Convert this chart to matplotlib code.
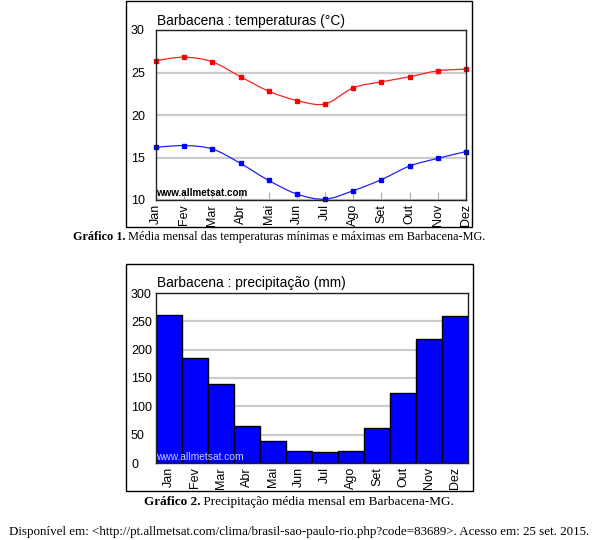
import matplotlib
matplotlib.use("Agg")
import matplotlib.pyplot as plt
from matplotlib.path import Path
from matplotlib.patches import PathPatch, Rectangle
import numpy as np

months = ["Jan", "Fev", "Mar", "Abr", "Mai", "Jun", "Jul", "Ago", "Set", "Out", "Nov", "Dez"]
temp_max = [26.4, 26.8, 26.25, 24.5, 22.8, 21.7, 21.3, 23.2, 23.9, 24.5, 25.2, 25.4]
temp_min = [16.2, 16.4, 16.0, 14.3, 12.3, 10.7, 10.1, 11.1, 12.4, 14.0, 14.9, 15.7]
precip = [262, 186, 140, 66, 38, 21, 19, 21, 62, 124, 219, 260]
temp_yticks = [10, 15, 20, 25, 30]
precip_yticks = [0, 50, 100, 150, 200, 250, 300]

title1 = "Barbacena : temperaturas (°C)"
title2 = "Barbacena : precipitação (mm)"
watermark = "www.allmetsat.com"
cap1_bold, cap1_text = "Gráfico 1.", " Média mensal das temperaturas mínimas e máximas em Barbacena-MG."
cap2_bold, cap2_text = "Gráfico 2.", " Precipitação média mensal em Barbacena-MG."
footer = "Disponível em: <http://pt.allmetsat.com/clima/brasil-sao-paulo-rio.php?code=83689>. Acesso em: 25 set. 2015."

W, H = 598, 540
fig = plt.figure(figsize=(W / 100, H / 100), dpi=100)
SANS = "Liberation Sans"
SERIF = "Liberation Serif"


def rect(l, t, r, b):
    return [l / W, 1 - b / H, (r - l) / W, (b - t) / H]


def frame(l, t, r, b):
    fig.add_artist(Rectangle((l / W, 1 - b / H), (r - l) / W, (b - t) / H,
                             transform=fig.transFigure, fill=False,
                             ec="black", lw=1.0))


def smooth_path(xs, ys):
    pts = np.column_stack([xs, ys]).astype(float)
    n = len(pts)
    verts = [pts[0]]
    codes = [Path.MOVETO]
    for i in range(n - 1):
        p0 = pts[max(i - 1, 0)]
        p1 = pts[i]
        p2 = pts[i + 1]
        p3 = pts[min(i + 2, n - 1)]
        c1 = p1 + (p2 - p0) / 6.0
        c2 = p2 - (p3 - p1) / 6.0
        verts += [c1, c2, p2]
        codes += [Path.CURVE4] * 3
    return Path(verts, codes)


def style_axes(ax):
    for s in ax.spines.values():
        s.set_color("#222222")
        s.set_linewidth(1.0)
    # y labels left-aligned at about x=131 px (axes left edge at 156 px)
    ax.tick_params(axis="y", length=0, pad=18, labelsize=9.0)
    ax.tick_params(axis="x", labelsize=9.0, rotation=90)
    for lab in ax.get_yticklabels():
        lab.set_horizontalalignment("left")
    for lab in ax.get_xticklabels() + ax.get_yticklabels():
        lab.set_fontfamily(SANS)
    ax.yaxis.grid(True, color="#cccccc", lw=1.6)
    ax.set_axisbelow(True)


# ---------- Chart 1: temperatures ----------
frame(126, 1, 472, 227)
ax1 = fig.add_axes(rect(156, 30, 466, 200))
x = np.arange(len(months))
ax1.set_xlim(0, len(months) - 1)
ax1.set_ylim(temp_yticks[0], temp_yticks[-1])
ax1.set_yticks(temp_yticks)
ax1.set_xticks(x)
ax1.set_xticklabels(months)
style_axes(ax1)
ax1.tick_params(axis="x", direction="in", length=6, color="#aaaaaa", pad=3)
ax1.add_patch(PathPatch(smooth_path(x, temp_max), fill=False, ec="#ff2020", lw=0.9))
ax1.add_patch(PathPatch(smooth_path(x, temp_min), fill=False, ec="#2020ff", lw=0.9))
ax1.plot(x, temp_max, "s", ms=2.3, color="#ff0000", clip_on=False)
ax1.plot(x, temp_min, "s", ms=2.3, color="#0000ff", clip_on=False)
ax1.text(0.0, 0.01, watermark, transform=ax1.transAxes, fontsize=7.1,
         fontfamily=SANS, fontweight="bold", color="black", va="bottom", ha="left")
fig.text(157 / W, 1 - 20.5 / H, title1, fontsize=9.9, fontfamily=SANS,
         va="center", ha="left")

# ---------- Chart 2: precipitation ----------
frame(126, 264, 473, 491)
ax2 = fig.add_axes(rect(156, 293, 468, 463))
ax2.bar(x, precip, width=1.0, color="#0000ff", edgecolor="black", lw=1.0, zorder=2)
ax2.set_xlim(-0.5, len(months) - 0.5)
ax2.set_ylim(precip_yticks[0], precip_yticks[-1])
ax2.set_yticks(precip_yticks)
ax2.set_xticks(x)
ax2.set_xticklabels(months)
style_axes(ax2)
ax2.tick_params(axis="x", length=0, pad=3)
ax2.text(0.0, 0.005, watermark, transform=ax2.transAxes, fontsize=7.4,
         fontfamily=SANS, color="#c8c8ff", va="bottom", ha="left", zorder=5)
fig.text(157 / W, 1 - 283.5 / H, title2, fontsize=9.9, fontfamily=SANS,
         va="center", ha="left")

# ---------- Captions ----------
renderer = fig.canvas.get_renderer()


def caption(cx, cy, bold, normal, size):
    tb = fig.text(0, 1 - cy / H, bold, fontsize=size, fontfamily=SERIF,
                  fontweight="bold", va="center", ha="left")
    tn = fig.text(0, 1 - cy / H, normal, fontsize=size, fontfamily=SERIF,
                  va="center", ha="left")
    wb = tb.get_window_extent(renderer).width
    wn = tn.get_window_extent(renderer).width
    left = cx - (wb + wn) / 2
    tb.set_x(left / W)
    tn.set_x((left + wb) / W)


caption(279, 237, cap1_bold, cap1_text, 8.8)
caption(299, 502, cap2_bold, cap2_text, 9.5)
fig.text(299 / W, 1 - 531.5 / H, footer, fontsize=9.4, fontfamily=SERIF,
         va="center", ha="center")

fig.savefig("out.png", dpi=100)
